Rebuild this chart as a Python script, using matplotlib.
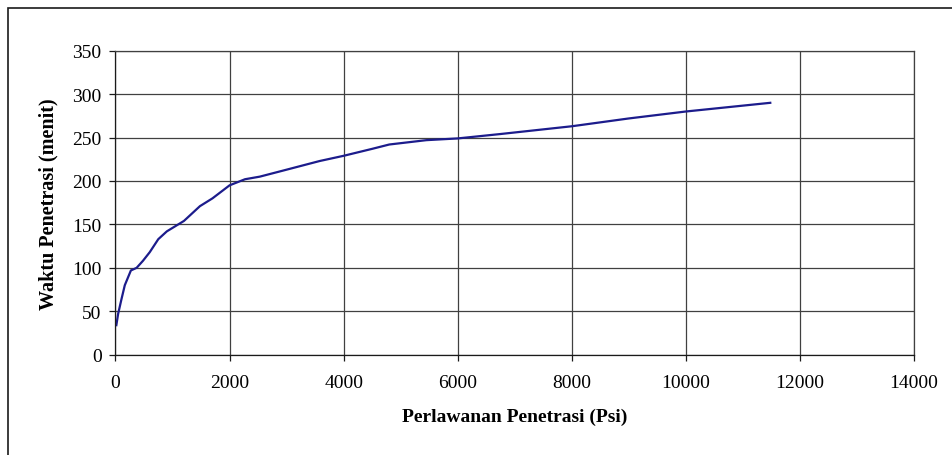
import matplotlib
matplotlib.use("Agg")
import matplotlib.pyplot as plt
from matplotlib.patches import Rectangle

# data
resistance_psi = [15, 46, 105, 163, 270, 370, 480, 600, 750, 900, 1000, 1200,
                  1480, 1700, 2000, 2270, 2530, 2940, 3580, 4000, 4500, 4800,
                  5450, 6000, 6740, 8000, 9000, 10000, 11480]
time_min = [34, 47, 64, 80, 97, 100, 108, 118, 133, 142, 146, 154,
            171, 180, 195, 202, 205, 212, 223, 229, 237, 242,
            247, 249, 254, 263, 272, 280, 290]

x_ticks = [0, 2000, 4000, 6000, 8000, 10000, 12000, 14000]
y_ticks = [0, 50, 100, 150, 200, 250, 300, 350]

plt.rcParams['font.family'] = ['Liberation Serif', 'DejaVu Serif']

fig = plt.figure(figsize=(9.53, 4.56), dpi=100)

# outer chart border (runs off right and bottom of the image)
fig.patches.append(Rectangle((8 / 953, -0.1), 1.2, 1 - 9 / 456 + 0.1,
                             transform=fig.transFigure, fill=False,
                             edgecolor='#1a1a1a', linewidth=1.2))

ax = fig.add_axes([115.5 / 953, 1 - 355.7 / 456, (914 - 115.5) / 953, (355.7 - 51.7) / 456])

ax.plot(resistance_psi, time_min, color='#1c1c8c', linewidth=1.6)

ax.set_xlim(0, 14000)
ax.set_ylim(0, 350)
ax.set_xticks(x_ticks)
ax.set_yticks(y_ticks)
ax.grid(True, color='#404040', linewidth=0.9)
ax.set_axisbelow(True)
for s in ax.spines.values():
    s.set_color('#404040')
    s.set_linewidth(0.9)
ax.spines['left'].set_color('#1a1a1a')
ax.spines['bottom'].set_color('#1a1a1a')
ax.tick_params(direction='out', length=4, width=0.9, color='#1a1a1a',
               labelsize=14, pad=6)
ax.tick_params(axis='x', pad=10)

ax.set_xlabel('Perlawanan Penetrasi (Psi)', fontsize=14, fontweight='bold', labelpad=12)
ax.set_ylabel('Waktu Penetrasi (menit)', fontsize=14.5, fontweight='bold', labelpad=10)

fig.savefig('out.png', dpi=100)
